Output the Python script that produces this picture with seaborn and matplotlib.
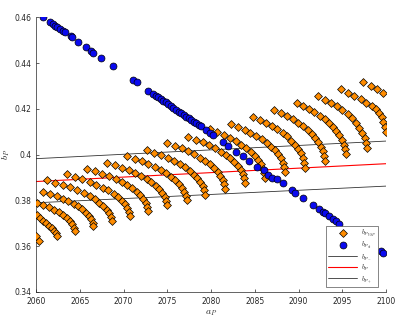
import numpy as np
import pandas as pd
import matplotlib
matplotlib.use('Agg')
import matplotlib.pyplot as plt
import seaborn as sns

# orange diamonds: one row per arc, a_P given as offset from 2060
vsp_a = [
    [0.00, 0.34],
    [0.08, 0.46, 0.83, 1.17, 1.49, 1.77, 2.02, 2.23, 2.37],
    [0.08, 0.78, 1.44, 2.05, 2.57, 3.05, 3.50, 3.84, 4.15, 4.34, 4.46],
    [0.83, 1.63, 2.38, 3.06, 3.69, 4.32, 4.83, 5.29, 5.69, 6.03, 6.30, 6.47, 6.55],
    [1.23, 2.19, 3.09, 3.90, 4.72, 5.46, 6.13, 6.72, 7.24, 7.69, 8.06, 8.35, 8.54, 8.65],
    [3.50, 4.44, 5.31, 6.12, 6.91, 7.63, 8.28, 8.86, 9.37, 9.81, 10.16, 10.45, 10.64, 10.74],
    [5.79, 6.71, 7.55, 8.33, 9.10, 9.81, 10.44, 11.00, 11.49, 11.92, 12.27, 12.55, 12.73, 12.83],
    [8.08, 8.98, 9.81, 10.57, 11.33, 12.01, 12.64, 13.19, 13.67, 14.08, 14.42, 14.70, 14.87, 14.98],
    [10.37, 11.26, 12.08, 12.83, 13.59, 14.28, 14.89, 15.44, 15.92, 16.33, 16.67, 16.95, 17.12, 17.22],
    [12.65, 13.51, 14.31, 15.05, 15.78, 16.44, 17.05, 17.58, 18.04, 18.45, 18.78, 19.04, 19.21, 19.31],
    [15.01, 15.86, 16.66, 17.38, 18.11, 18.76, 19.35, 19.88, 20.35, 20.75, 21.07, 21.34, 21.50, 21.60],
    [17.41, 18.25, 19.03, 19.74, 20.46, 21.10, 21.68, 22.20, 22.66, 23.05, 23.37, 23.63, 23.80, 23.89],
    [19.88, 20.71, 21.46, 22.14, 22.84, 23.46, 24.03, 24.53, 24.97, 25.34, 25.67, 25.92, 26.07, 26.17],
    [22.29, 23.09, 23.83, 24.50, 25.19, 25.80, 26.35, 26.85, 27.28, 27.65, 27.97, 28.20, 28.36, 28.45],
    [24.76, 25.54, 26.26, 26.92, 27.57, 28.17, 28.71, 29.19, 29.61, 29.96, 30.26, 30.50, 30.65, 30.74],
    [27.24, 27.99, 28.68, 29.33, 29.96, 30.53, 31.06, 31.52, 31.93, 32.28, 32.56, 32.80, 32.95, 33.03],
    [29.78, 30.50, 31.18, 31.79, 32.42, 32.98, 33.48, 33.94, 34.32, 34.66, 34.94, 35.16, 35.31, 35.39],
    [32.23, 33.01, 33.73, 34.40, 35.02, 35.62, 36.13, 36.57, 36.96, 37.29, 37.54, 37.71, 37.79],
    [34.86, 35.69, 36.38, 37.11, 37.71, 38.37, 38.85, 39.24, 39.51, 39.69, 39.88, 40.00],
    [37.41, 38.28, 39.01, 39.69],
]
vsp_b = [
    [.3643, .3624],
    [.3735, .3722, .3711, .3700, .3689, .3678, .3667, .3656, .3643],
    [.3789, .3779, .3770, .3758, .3747, .3734, .3722, .3709, .3695, .3680, .3665],
    [.3838, .3827, .3818, .3807, .3797, .3785, .3773, .3760, .3746, .3731, .3716, .3701, .3687],
    [.3888, .3876, .3867, .3856, .3843, .3831, .3818, .3804, .3790, .3775, .3759, .3743, .3727, .3709],
    [.3914, .3902, .3892, .3881, .3868, .3855, .3843, .3828, .3813, .3799, .3782, .3766, .3749, .3731],
    [.3939, .3927, .3917, .3906, .3893, .3880, .3867, .3852, .3837, .3822, .3805, .3788, .3772, .3753],
    [.3965, .3953, .3943, .3932, .3919, .3905, .3892, .3878, .3863, .3848, .3831, .3814, .3798, .3779],
    [.3995, .3982, .3972, .3960, .3946, .3933, .3919, .3904, .3888, .3873, .3855, .3838, .3820, .3801],
    [.4021, .4008, .3997, .3985, .3972, .3958, .3944, .3928, .3912, .3896, .3878, .3861, .3843, .3823],
    [.4051, .4038, .4027, .4015, .4001, .3987, .3973, .3957, .3940, .3924, .3906, .3888, .3870, .3850],
    [.4078, .4065, .4054, .4042, .4028, .4013, .3999, .3983, .3967, .3951, .3933, .3914, .3896, .3876],
    [.4112, .4098, .4086, .4074, .4059, .4044, .4029, .4011, .3994, .3977, .3958, .3939, .3919, .3898],
    [.4134, .4120, .4109, .4096, .4082, .4067, .4052, .4035, .4019, .4002, .3983, .3964, .3945, .3924],
    [.4166, .4152, .4139, .4126, .4110, .4095, .4079, .4061, .4043, .4026, .4005, .3985, .3965, .3943],
    [.4196, .4182, .4169, .4156, .4140, .4125, .4109, .4091, .4073, .4056, .4035, .4015, .3995, .3973],
    [.4225, .4211, .4198, .4185, .4169, .4154, .4138, .4120, .4102, .4085, .4064, .4044, .4024, .4002],
    [.4256, .4240, .4227, .4211, .4195, .4177, .4158, .4138, .4118, .4095, .4072, .4051, .4029],
    [.4285, .4269, .4258, .4244, .4226, .4214, .4200, .4182, .4163, .4141, .4119, .4097],
    [.4317, .4302, .4288, .4269],
]

# blue circles
st_a = [0.83, 1.60, 1.91, 2.17, 2.37, 2.74, 3.12, 3.31, 3.97, 4.08, 4.83, 5.71, 6.29, 6.55,
        7.43, 8.77, 11.12, 11.51, 12.77, 13.41, 13.71, 13.98, 14.29, 14.55, 14.80, 15.12,
        15.43, 15.71, 16.00, 16.29, 16.57, 16.86, 17.14, 17.43, 17.71, 18.00, 18.29, 18.57,
        18.80, 19.43, 19.89, 20.19, 21.34, 21.98, 22.86, 23.69, 24.38, 25.31, 26.00, 26.55,
        26.94, 27.51, 28.23, 29.22, 29.60, 30.48, 31.62, 32.38, 32.77, 33.03, 33.52, 33.91,
        34.29, 34.66, 39.37, 39.60]
st_b = [.4600, .4578, .4571, .4563, .4559, .4549, .4540, .4534, .4518, .4515, .4493, .4471,
        .4453, .4444, .4422, .4387, .4324, .4317, .4280, .4266, .4258, .4251, .4244, .4236,
        .4229, .4219, .4211, .4203, .4196, .4188, .4181, .4174, .4166, .4160, .4152, .4144,
        .4138, .4131, .4125, .4108, .4096, .4086, .4056, .4039, .4012, .3992, .3973, .3946,
        .3932, .3911, .3899, .3891, .3874, .3847, .3833, .3811, .3779, .3760, .3750, .3743,
        .3731, .3719, .3709, .3697, .3579, .3570]

# straight lines
years = [2060, 2100]
b_minus = [0.3982, 0.4059]
b_mid = [0.3882, 0.3960]
b_plus = [0.3789, 0.3862]

vsp = pd.DataFrame({
    'a': [2060 + v for row in vsp_a for v in row],
    'b': [v for row in vsp_b for v in row],
})
st = pd.DataFrame({'a': [2060 + v for v in st_a], 'b': st_b})

sns.set_style('ticks')
plt.rcParams['font.family'] = ['DejaVu Sans']
plt.rcParams['mathtext.fontset'] = 'cm'

fig = plt.figure(figsize=(4.07, 3.22), dpi=100)
ax = fig.add_axes([0.0885, 0.094, 0.86, 0.852])

sns.scatterplot(data=vsp, x='a', y='b', marker='D', s=16, color='#ff8c00',
                edgecolor='black', linewidth=0.5, ax=ax, label=r'$b_{P_{VSP}}$', zorder=3)
sns.scatterplot(data=st, x='a', y='b', marker='o', s=25, color='#0a0aef',
                edgecolor='black', linewidth=0.5, ax=ax, label=r'$b_{P_{st}}$', zorder=3)
sns.lineplot(x=years, y=b_minus, color='#333333', lw=0.6, ax=ax, label=r'$b_{P_-}$', zorder=2)
sns.lineplot(x=years, y=b_mid, color='red', lw=0.8, ax=ax, label=r'$b_P$', zorder=2)
sns.lineplot(x=years, y=b_plus, color='#333333', lw=0.6, ax=ax, label=r'$b_{P_+}$', zorder=2)

ax.set_xlim(2060, 2100)
ax.set_ylim(0.34, 0.46)
ax.set_xticks(np.arange(2060, 2101, 5))
ax.set_yticks([0.34, 0.36, 0.38, 0.4, 0.42, 0.44, 0.46])
ax.set_yticklabels(['0.34', '0.36', '0.38', '0.4', '0.42', '0.44', '0.46'])
ax.tick_params(direction='in', length=2.5, width=0.5, labelsize=5.5, colors='#262626')
ax.tick_params(axis='x', pad=4)
ax.tick_params(axis='y', pad=3)
for s in ['left', 'bottom']:
    ax.spines[s].set_linewidth(0.5)
    ax.spines[s].set_color('#262626')
ax.spines['top'].set_visible(False)
ax.spines['right'].set_visible(False)
ax.set_xlabel(r'$a_P$', fontsize=7, labelpad=1)
ax.set_ylabel(r'$b_P$', fontsize=7, labelpad=2)

leg = ax.legend(loc='lower right', bbox_to_anchor=(0.977, 0.017), borderaxespad=0,
                fontsize=5, frameon=True, fancybox=False, framealpha=1,
                edgecolor='#555555', handlelength=4.2, labelspacing=0.15,
                borderpad=0.35, handletextpad=0.5, handleheight=0.9)
leg.get_frame().set_linewidth(0.5)
leg.set_zorder(5)

fig.savefig('out.png', dpi=100)
